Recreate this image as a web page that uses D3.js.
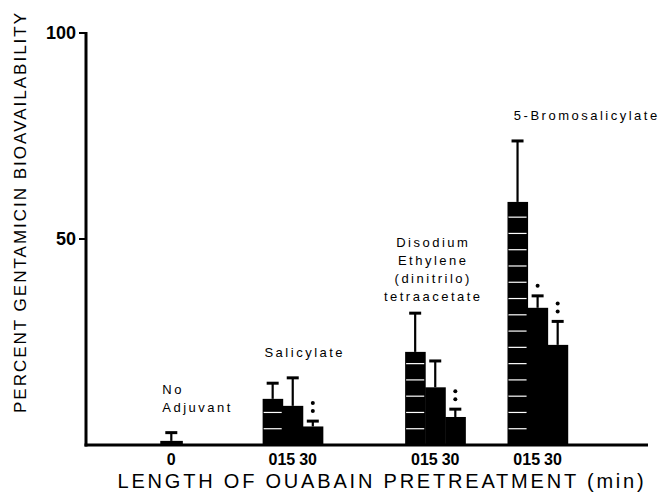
<!DOCTYPE html>
<html>
<head>
<meta charset="utf-8">
<script src="https://cdn.jsdelivr.net/npm/d3@7"></script>
<style>
  body { margin: 0; background: #fff; }
  text { font-family: "Liberation Sans", Arial, sans-serif; fill: #000; }
</style>
</head>
<body>
<svg id="chart" width="662" height="493"></svg>
<script>
// values
var groups = ["No Adjuvant", "Salicylate", "Disodium Ethylene (dinitrilo) tetraacetate", "5-Bromosalicylate"]
var groupLines = [["No", "Adjuvant"], ["Salicylate"], ["Disodium", "Ethylene", "(dinitrilo)", "tetraacetate"], ["5-Bromosalicylate"]]
var times = [["0"], ["0", "15", "30"], ["0", "15", "30"], ["0", "15", "30"]]
var means = [[1], [11.2, 9.5, 4.5], [22.6, 14, 6.8], [59, 33.3, 24.3]]
var errTop = [[3], [15, 16.3, 5.8], [32, 20.4, 8.7], [73.8, 36.2, 30]]
var stars = [[0], [0, 0, 2], [0, 0, 2], [0, 1, 2]]
var yTicks = [0, 50, 100]

// layout (slot units along the x axis, one slot = one bar)
var groupStart = [3.7, 8.8, 15.9, 21]
var labelX = [3.8, 10.9, 17.3, 24.95]
var labelAnchor = ["start", "middle", "middle", "middle"]

var svg = d3.select("#chart")
var margin = {left: 86, right: 14, top: 33, bottom: 48}
var W = 662, H = 493

var x = d3.scaleLinear().domain([0, 28]).range([margin.left, W - margin.right])
var y = d3.scaleLinear().domain([0, 100]).range([H - margin.bottom, margin.top])

var bars = []
groups.forEach(function (g, gi) {
    means[gi].forEach(function (m, i) {
        bars.push({g: gi, i: i, v: m, e: errTop[gi][i], s: stars[gi][i], t: times[gi][i],
            x0: groupStart[gi] + i, w: gi === 0 ? 1.1 : 1})
    })
})

var plot = svg.append("g")

// bars
plot.selectAll("rect.bar")
    .data(bars)
    .enter().append("rect")
    .attr("class", "bar")
    .attr("x", d => x(d.x0))
    .attr("y", d => y(d.v))
    .attr("width", d => x(d.x0 + d.w) - x(d.x0) + 0.5)
    .attr("height", d => y(0) - y(d.v))
    .attr("fill", "#000")

// white block lines in the first bar of each treated group
bars.filter(d => d.g > 0 && d.i === 0).forEach(function (d) {
    plot.selectAll(null)
        .data(d3.range(3.95, d.v - 1, 3.95))
        .enter().append("line")
        .attr("x1", x(d.x0) + 1)
        .attr("x2", x(d.x0 + 1) - 1)
        .attr("y1", v => y(v))
        .attr("y2", v => y(v))
        .attr("stroke", "#fff")
        .attr("stroke-width", 1.2)
})

// error bars
plot.selectAll("line.err")
    .data(bars)
    .enter().append("line")
    .attr("x1", d => x(d.x0 + d.w / 2))
    .attr("x2", d => x(d.x0 + d.w / 2))
    .attr("y1", d => y(d.v))
    .attr("y2", d => y(d.e))
    .attr("stroke", "#000")
    .attr("stroke-width", 2.2)
plot.selectAll("line.cap")
    .data(bars)
    .enter().append("line")
    .attr("x1", d => x(d.x0 + d.w / 2) - 6)
    .attr("x2", d => x(d.x0 + d.w / 2) + 6)
    .attr("y1", d => y(d.e))
    .attr("y2", d => y(d.e))
    .attr("stroke", "#000")
    .attr("stroke-width", 3)

// significance dots
bars.filter(d => d.s > 0).forEach(function (d) {
    plot.selectAll(null)
        .data(d3.range(d.s))
        .enter().append("circle")
        .attr("cx", x(d.x0 + 0.5))
        .attr("cy", k => y(d.e) - 10 - (d.s - 1 - k) * 8)
        .attr("r", 2)
        .attr("fill", "#000")
})

// axes
svg.append("line")
    .attr("x1", x(0)).attr("x2", x(0))
    .attr("y1", y(100) - 1).attr("y2", y(0) + 1.5)
    .attr("stroke", "#000").attr("stroke-width", 3)
svg.append("line")
    .attr("x1", x(0) - 1.5).attr("x2", x(28))
    .attr("y1", y(0)).attr("y2", y(0))
    .attr("stroke", "#000").attr("stroke-width", 3)

svg.selectAll("line.ytick")
    .data(yTicks.filter(t => t > 0))
    .enter().append("line")
    .attr("x1", x(0) - 7).attr("x2", x(0))
    .attr("y1", d => y(d)).attr("y2", d => y(d))
    .attr("stroke", "#000").attr("stroke-width", 2)
svg.selectAll("text.ytick")
    .data(yTicks.filter(t => t > 0))
    .enter().append("text")
    .attr("x", x(0) - 10)
    .attr("y", d => y(d) + 6)
    .attr("text-anchor", "end")
    .style("font-size", "18px")
    .style("font-weight", "bold")
    .text(d => d)

// x tick labels, packed under each group like the original "01530"
groups.forEach(function (g, gi) {
    var start = groupStart[gi], n = times[gi].length
    var t = svg.append("text")
        .attr("x", x(start + (gi === 0 ? 0.55 : n / 2)))
        .attr("y", y(0) + 20)
        .attr("text-anchor", "middle")
        .style("font-size", "16px")
        .style("font-weight", "bold")
    t.selectAll("tspan")
        .data(times[gi])
        .enter().append("tspan")
        .attr("dx", (d, k) => k === 2 ? 4 : 0)
        .text(d => d)
})

// group labels
groups.forEach(function (g, gi) {
    var lines = groupLines[gi]
    var base = y(d3.max(errTop[gi])) - (gi === 2 ? 12 : 21)
    svg.selectAll(null)
        .data(lines)
        .enter().append("text")
        .attr("x", x(labelX[gi]))
        .attr("y", (d, k) => base - (lines.length - 1 - k) * 18)
        .attr("text-anchor", labelAnchor[gi])
        .style("font-size", "13px")
        .style("letter-spacing", "2.5px")
        .text(d => d)
})

// axis titles
svg.append("text")
    .attr("x", 382)
    .attr("y", H - 5)
    .attr("text-anchor", "middle")
    .style("font-size", "20px")
    .style("letter-spacing", "2.8px")
    .text("LENGTH OF OUABAIN PRETREATMENT (min)")
svg.append("text")
    .attr("transform", "translate(26," + 212 + ") rotate(-90)")
    .attr("text-anchor", "middle")
    .style("font-size", "17px")
    .style("letter-spacing", "2px")
    .text("PERCENT GENTAMICIN BIOAVAILABILITY")
</script>
</body>
</html>
